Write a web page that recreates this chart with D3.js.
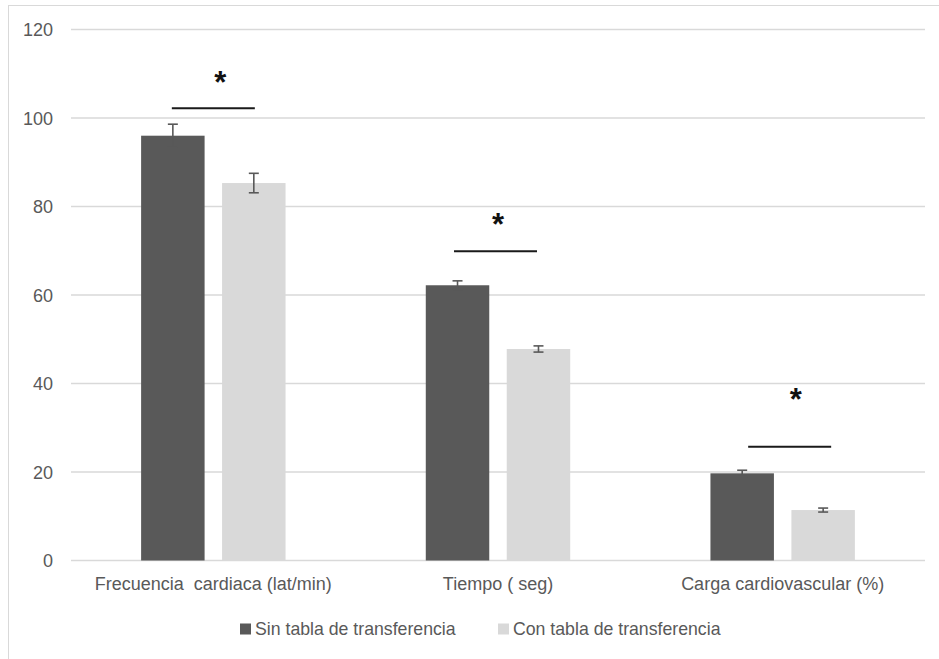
<!DOCTYPE html>
<html>
<head>
<meta charset="utf-8">
<script src="https://cdn.jsdelivr.net/npm/d3@7"></script>
<style>
  body { margin: 0; background: #fff; }
  text { font-family: "Liberation Sans", Arial, sans-serif; }
</style>
</head>
<body>
<div id="chart"></div>
<script>
// datos
const categories = ["Frecuencia\u00a0 cardiaca (lat/min)", "Tiempo ( seg)", "Carga cardiovascular (%)"];
const series = ["Sin tabla de transferencia", "Con tabla de transferencia"];
const sinTabla = [96.0, 62.2, 19.7];
const conTabla = [85.3, 47.8, 11.4];
const sinTablaErr = [2.6, 1.0, 0.7];
const conTablaErr = [2.2, 0.7, 0.45];
const yTicks = [0, 20, 40, 60, 80, 100, 120];
// lineas de significancia (*) en unidades del eje y
const sigLine = [102.2, 69.9, 25.7];
const sigStar = [109.7, 77.7, 38.1];

const width = 939, height = 659;
const colors = ["#595959", "#d9d9d9"];
const textColor = "#595959";

const svg = d3.select("#chart").append("svg")
    .attr("width", width)
    .attr("height", height);

// marco del grafico
svg.append("rect")
    .attr("x", 8.5).attr("y", 5.5)
    .attr("width", 960).attr("height", 700)
    .attr("fill", "none")
    .attr("stroke", "#d9d9d9")
    .attr("stroke-width", 1);

const x0 = d3.scaleBand().domain(categories).range([71, 925]);
const x1 = d3.scaleBand().domain(series).range([0, x0.bandwidth()])
    .paddingInner(0.216).paddingOuter(0.866);
const y = d3.scaleLinear().domain([0, 120]).range([560.5, 29.5]);

// rejilla
svg.append("g").selectAll("line")
    .data(yTicks)
    .enter().append("line")
    .attr("x1", 71).attr("x2", 925)
    .attr("y1", d => y(d)).attr("y2", d => y(d))
    .attr("stroke", "#d9d9d9")
    .attr("stroke-width", 1.3);

// etiquetas eje y
svg.append("g").selectAll("text")
    .data(yTicks)
    .enter().append("text")
    .attr("x", 53)
    .attr("y", d => y(d) + 6.5)
    .attr("text-anchor", "end")
    .attr("font-size", "18px")
    .attr("fill", textColor)
    .text(d => d);

const rows = categories.map((c, i) => ({
    cat: c,
    vals: [
        { s: series[0], v: sinTabla[i], e: sinTablaErr[i], k: 0 },
        { s: series[1], v: conTabla[i], e: conTablaErr[i], k: 1 }
    ]
}));

const groups = svg.append("g").selectAll("g")
    .data(rows)
    .enter().append("g")
    .attr("transform", d => `translate(${x0(d.cat)},0)`);

groups.selectAll("rect")
    .data(d => d.vals)
    .enter().append("rect")
    .attr("x", d => x1(d.s))
    .attr("y", d => y(d.v))
    .attr("width", x1.bandwidth())
    .attr("height", d => y(0) - y(d.v))
    .attr("fill", d => colors[d.k]);

// barras de error
const errs = groups.selectAll("g.err")
    .data(d => d.vals)
    .enter().append("g")
    .attr("class", "err")
    .attr("stroke", "#595959")
    .attr("stroke-width", 1.6);

errs.append("line")
    .attr("x1", d => x1(d.s) + x1.bandwidth() / 2)
    .attr("x2", d => x1(d.s) + x1.bandwidth() / 2)
    .attr("y1", d => y(d.v + d.e))
    .attr("y2", d => y(d.v - d.e));
[1, -1].forEach(sg => {
    errs.append("line")
        .attr("x1", d => x1(d.s) + x1.bandwidth() / 2 - 5)
        .attr("x2", d => x1(d.s) + x1.bandwidth() / 2 + 5)
        .attr("y1", d => y(d.v + sg * d.e))
        .attr("y2", d => y(d.v + sg * d.e));
});

// etiquetas de categorias
svg.append("g").selectAll("text")
    .data(categories)
    .enter().append("text")
    .attr("x", d => x0(d) + x0.bandwidth() / 2)
    .attr("y", 590)
    .attr("text-anchor", "middle")
    .attr("font-size", "18px")
    .attr("fill", textColor)
    .text(d => d);

// significancia
const lineShift = [0, -2.5, 7];
const starShift = [7, 0, 13];
svg.append("g").selectAll("line")
    .data(sigLine)
    .enter().append("line")
    .attr("x1", (d, i) => x0(categories[i]) + x0.bandwidth() / 2 + lineShift[i] - 41.5)
    .attr("x2", (d, i) => x0(categories[i]) + x0.bandwidth() / 2 + lineShift[i] + 41.5)
    .attr("y1", d => y(d)).attr("y2", d => y(d))
    .attr("stroke", "#1a1a1a")
    .attr("stroke-width", 2);

svg.append("g").selectAll("text")
    .data(sigStar)
    .enter().append("text")
    .attr("x", (d, i) => x0(categories[i]) + x0.bandwidth() / 2 + starShift[i])
    .attr("y", d => y(d) + 18)
    .attr("text-anchor", "middle")
    .attr("font-size", "31px")
    .attr("font-weight", "bold")
    .attr("fill", "#111")
    .text("*");

// leyenda
const legend = svg.append("g");
const legX = [240, 498];
series.forEach((s, i) => {
    legend.append("rect")
        .attr("x", legX[i]).attr("y", 623.5)
        .attr("width", 11).attr("height", 11)
        .attr("fill", colors[i]);
    legend.append("text")
        .attr("x", legX[i] + 15)
        .attr("y", 634.5)
        .attr("font-size", "17.7px")
        .attr("fill", textColor)
        .text(s);
});
</script>
</body>
</html>
